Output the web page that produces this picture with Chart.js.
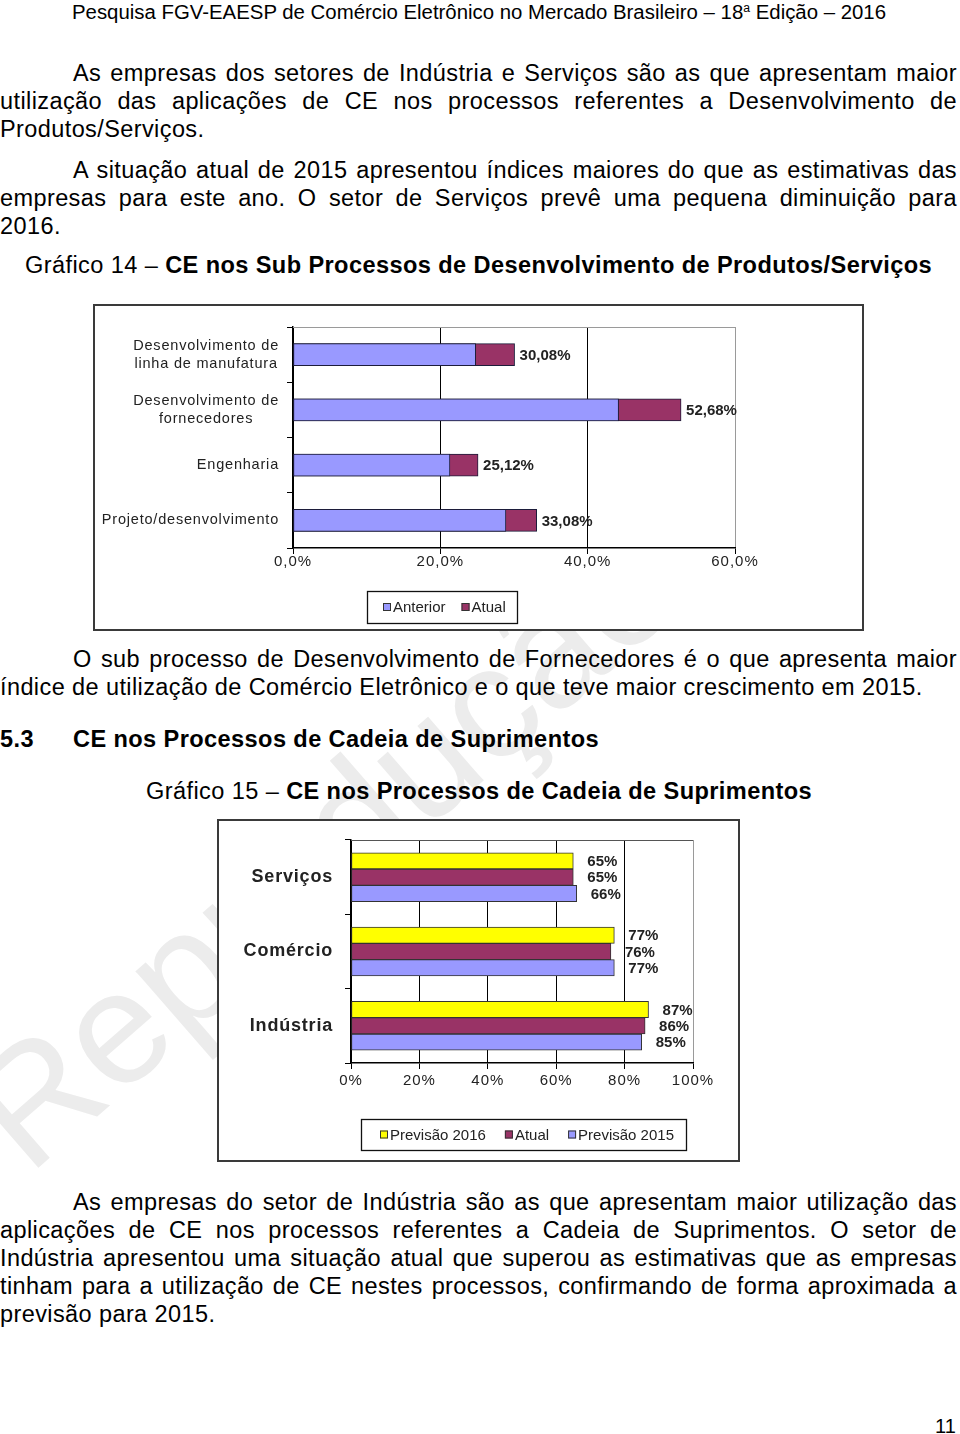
<!DOCTYPE html>
<html lang="pt-BR">
<head>
<meta charset="utf-8">
<script src="https://cdn.jsdelivr.net/npm/chart.js@4.4.1/dist/chart.umd.min.js"></script>
<style>
html, body { margin: 0; padding: 0; background: #fff; }
body { width: 960px; height: 1434px; position: relative; overflow: hidden;
       font-family: "Liberation Sans", Arial, Helvetica, sans-serif; color: #000; }
.t { position: absolute; white-space: nowrap; font-size: 23.5px; line-height: 28px; letter-spacing: 0.4px; transform-origin: 0 0; }
.b { font-weight: bold; }
.wm { position: absolute; left: 45px; top: 1035px; font-size: 160px; line-height: 160px; color: #ececec;
      white-space: nowrap; transform-origin: 0 100%; transform: rotate(-41deg); }
.box { position: absolute; background: #fff; }
.frame { position: absolute; border: 2px solid #3a3a3a; box-sizing: border-box; pointer-events: none; }
canvas { display: block; }
sup { font-size: 12px; vertical-align: 7px; line-height: 0; }
</style>
</head>
<body>

<div class="wm">Reprodução</div>

<div class="t" style="left:72px;top:0px;font-size:20px;line-height:24px;letter-spacing:0" data-fit="814">Pesquisa FGV-EAESP de Comércio Eletrônico no Mercado Brasileiro – 18<sup>a</sup> Edição – 2016</div>

<div class="t j" style="left:73px;top:59px" data-w="884">As empresas dos setores de Indústria e Serviços são as que apresentam maior</div>
<div class="t j" style="left:0;top:87px" data-w="957">utilização das aplicações de CE nos processos referentes a Desenvolvimento de</div>
<div class="t" style="left:0;top:115px">Produtos/Serviços.</div>

<div class="t j" style="left:73px;top:156px" data-w="884">A situação atual de 2015 apresentou índices maiores do que as estimativas das</div>
<div class="t j" style="left:0;top:184px" data-w="957">empresas para este ano. O setor de Serviços prevê uma pequena diminuição para</div>
<div class="t" style="left:0;top:212px">2016.</div>

<div class="t" style="left:25px;top:251px" data-fit="907">Gráfico 14 – <span class="b">CE nos Sub Processos de Desenvolvimento de Produtos/Serviços</span></div>

<div class="box" style="left:93px;top:304px;width:771px;height:327px"><canvas id="chart1" width="771" height="327"></canvas></div>
<div class="frame" style="left:93px;top:304px;width:771px;height:327px"></div>

<div class="t j" style="left:73px;top:645px" data-w="884">O sub processo de Desenvolvimento de Fornecedores é o que apresenta maior</div>
<div class="t" style="left:0;top:673px">índice de utilização de Comércio Eletrônico e o que teve maior crescimento em 2015.</div>

<div class="t b" style="left:0;top:725px">5.3</div>
<div class="t b" style="left:73px;top:725px" data-fit="526">CE nos Processos de Cadeia de Suprimentos</div>

<div class="t" style="left:146px;top:777px" data-fit="666">Gráfico 15 – <span class="b">CE nos Processos de Cadeia de Suprimentos</span></div>

<div class="box" style="left:217px;top:819px;width:523px;height:343px"><canvas id="chart2" width="523" height="343"></canvas></div>
<div class="frame" style="left:217px;top:819px;width:523px;height:343px"></div>

<div class="t j" style="left:73px;top:1188px" data-w="884">As empresas do setor de Indústria são as que apresentam maior utilização das</div>
<div class="t j" style="left:0;top:1216px" data-w="957">aplicações de CE nos processos referentes a Cadeia de Suprimentos. O setor de</div>
<div class="t j" style="left:0;top:1244px" data-w="957">Indústria apresentou uma situação atual que superou as estimativas que as empresas</div>
<div class="t j" style="left:0;top:1272px" data-w="957">tinham para a utilização de CE nestes processos, confirmando de forma aproximada a</div>
<div class="t" style="left:0;top:1300px">previsão para 2015.</div>

<div class="t" style="left:935px;top:1414px;font-size:20px;line-height:24px;letter-spacing:0">11</div>

<script>
// Gráfico 14
var c1Labels = [["Desenvolvimento de", "linha de manufatura"], ["Desenvolvimento de", "fornecedores"], "Engenharia", "Projeto/desenvolvimento"];
var c1Anterior = [24.8, 44.2, 21.3, 28.9];
var c1Atual = [30.08, 52.68, 25.12, 33.08];

// Gráfico 15
var c2Labels = ["Serviços", "Comércio", "Indústria"];
var c2Prev2016 = [65, 77, 87];
var c2Atual = [65, 76, 86];
var c2Prev2015 = [66, 77, 85];

// text lines: stretch word spacing so each line fills its width, or squeeze titles
document.querySelectorAll('.j').forEach(function (el) {
    var w = +el.dataset.w;
    var nat = el.getBoundingClientRect().width;
    var spaces = (el.textContent.match(/ /g) || []).length;
    el.style.wordSpacing = ((w - nat) / spaces) + 'px';
});
document.querySelectorAll('[data-fit]').forEach(function (el) {
    var nat = el.getBoundingClientRect().width;
    el.style.transform = 'scaleX(' + (+el.dataset.fit / nat) + ')';
});

var FONT = '"Liberation Sans", Arial, sans-serif';

var spacing = {
    id: 'spacing',
    beforeDraw: function (chart, args, o) { chart.ctx.letterSpacing = o.value; },
    afterDraw: function (chart) { chart.ctx.letterSpacing = '0px'; }
};

var plotTop = {
    id: 'plotTop',
    beforeDatasetsDraw: function (chart, args, o) {
        var ctx = chart.ctx, ca = chart.chartArea;
        ctx.save();
        ctx.strokeStyle = o.color;
        ctx.lineWidth = 1;
        ctx.beginPath();
        ctx.moveTo(ca.left, ca.top + 0.5);
        ctx.lineTo(ca.right, ca.top + 0.5);
        ctx.stroke();
        ctx.restore();
    }
};

var catLabels = {
    id: 'catLabels',
    afterDraw: function (chart, args, o) {
        var ctx = chart.ctx, y = chart.scales.y;
        ctx.save();
        ctx.font = o.font;
        ctx.fillStyle = o.color;
        ctx.letterSpacing = o.spacing;
        ctx.textAlign = 'center';
        ctx.textBaseline = 'middle';
        var right = chart.chartArea.left - o.gap;
        chart.data.labels.forEach(function (lab, i) {
            var lines = Array.isArray(lab) ? lab : [lab];
            var w = Math.max.apply(null, lines.map(function (l) { return ctx.measureText(l).width; }));
            var cy = y.getPixelForTick(i);
            lines.forEach(function (l, k) {
                ctx.fillText(l, right - w / 2, cy + (k - (lines.length - 1) / 2) * o.lineHeight);
            });
        });
        ctx.restore();
    }
};

var valueLabels = {
    id: 'valueLabels',
    afterDatasetsDraw: function (chart, args, o) {
        var ctx = chart.ctx;
        ctx.save();
        ctx.font = o.font;
        ctx.fillStyle = o.color;
        ctx.letterSpacing = '0px';
        ctx.textAlign = 'left';
        ctx.textBaseline = 'middle';
        o.datasets.forEach(function (di) {
            var meta = chart.getDatasetMeta(di);
            meta.data.forEach(function (bar, i) {
                var v = chart.data.datasets[di].data[i];
                var txt = o.decimals ? v.toFixed(o.decimals).replace('.', ',') + '%' : v + '%';
                ctx.fillText(txt, bar.x + o.offset, bar.y + 1);
            });
        });
        ctx.restore();
    }
};

var boxLegend = {
    id: 'boxLegend',
    afterDraw: function (chart, args, o) {
        var ctx = chart.ctx;
        ctx.save();
        ctx.letterSpacing = '0px';
        ctx.strokeStyle = '#111';
        ctx.lineWidth = 1.3;
        ctx.strokeRect(o.x + 0.5, o.y + 0.5, o.w, o.h);
        ctx.font = o.font;
        ctx.textAlign = 'left';
        ctx.textBaseline = 'middle';
        var x = o.x + o.pad, cy = o.y + o.h / 2;
        chart.data.datasets.forEach(function (ds) {
            ctx.fillStyle = ds.backgroundColor;
            ctx.fillRect(x, cy - 4, 8, 8);
            ctx.strokeStyle = '#333';
            ctx.lineWidth = 1;
            ctx.strokeRect(x + 0.5, cy - 3.5, 7, 7);
            ctx.fillStyle = '#222';
            ctx.fillText(ds.label, x + 10, cy + 1);
            x += 10 + ctx.measureText(ds.label).width + o.gap;
        });
        ctx.restore();
    }
};

function xGridColor(max) {
    return function (c) { return c.tick && c.tick.value === max ? '#9a9a9a' : '#000'; };
}

new Chart(document.getElementById('chart1'), {
    type: 'bar',
    data: {
        labels: c1Labels,
        datasets: [{
            label: 'Anterior',
            data: c1Anterior,
            backgroundColor: '#9999FF',
            borderColor: '#1c1c3a',
            borderWidth: 1,
            borderSkipped: false,
            grouped: false,
            barThickness: 22
        }, {
            label: 'Atual',
            data: c1Atual,
            backgroundColor: '#993366',
            borderColor: '#1c1c3a',
            borderWidth: 1,
            borderSkipped: false,
            grouped: false,
            barThickness: 22
        }]
    },
    options: {
        indexAxis: 'y',
        responsive: false,
        animation: false,
        layout: { padding: { top: 23, right: 129, left: 0, bottom: 0 } },
        scales: {
            x: {
                min: 0, max: 60,
                ticks: {
                    stepSize: 20, padding: -1, color: '#222',
                    font: { family: FONT, size: 15 },
                    callback: function (v) { return v.toFixed(1).replace('.', ',') + '%'; }
                },
                grid: { color: xGridColor(60), tickColor: '#000', tickLength: 6, lineWidth: 1 },
                border: { color: '#000', width: 1.5 },
                afterFit: function (s) { s.height = 83; }
            },
            y: {
                ticks: { display: false },
                grid: { drawOnChartArea: false, tickColor: '#000', tickLength: 6, offset: true },
                border: { color: '#000', width: 1.5 },
                afterFit: function (s) { s.width = 200; }
            }
        },
        plugins: {
            legend: { display: false },
            tooltip: { enabled: false },
            spacing: { value: '1px' },
            plotTop: { color: '#9a9a9a' },
            catLabels: { font: '14.5px ' + FONT, color: '#222', spacing: '0.8px', gap: 14, lineHeight: 18 },
            valueLabels: { datasets: [1], font: 'bold 15px ' + FONT, color: '#222', offset: 5, decimals: 2 },
            boxLegend: { x: 274, y: 287, w: 150, h: 32, pad: 16, gap: 16, font: '15px ' + FONT }
        }
    },
    plugins: [spacing, plotTop, catLabels, valueLabels, boxLegend]
});

new Chart(document.getElementById('chart2'), {
    type: 'bar',
    data: {
        labels: c2Labels,
        datasets: [{
            label: 'Previsão 2016',
            data: c2Prev2016,
            backgroundColor: '#FFFF00',
            borderColor: '#333',
            borderWidth: 1,
            borderSkipped: false,
            barThickness: 16.3
        }, {
            label: 'Atual',
            data: c2Atual,
            backgroundColor: '#993366',
            borderColor: '#333',
            borderWidth: 1,
            borderSkipped: false,
            barThickness: 16.3
        }, {
            label: 'Previsão 2015',
            data: c2Prev2015,
            backgroundColor: '#9999FF',
            borderColor: '#333',
            borderWidth: 1,
            borderSkipped: false,
            barThickness: 16.3
        }]
    },
    options: {
        indexAxis: 'y',
        responsive: false,
        animation: false,
        layout: { padding: { top: 21, right: 47, left: 0, bottom: 0 } },
        scales: {
            x: {
                min: 0, max: 100,
                ticks: {
                    stepSize: 20, padding: 3, color: '#222',
                    font: { family: FONT, size: 15 },
                    callback: function (v) { return v + '%'; }
                },
                grid: { color: xGridColor(100), tickColor: '#000', tickLength: 6, lineWidth: 1 },
                border: { color: '#000', width: 1.5 },
                afterFit: function (s) { s.height = 99; }
            },
            y: {
                ticks: { display: false },
                grid: { drawOnChartArea: false, tickColor: '#000', tickLength: 6, offset: true },
                border: { color: '#000', width: 1.5 },
                afterFit: function (s) { s.width = 134; }
            }
        },
        plugins: {
            legend: { display: false },
            tooltip: { enabled: false },
            spacing: { value: '1px' },
            plotTop: { color: '#555' },
            catLabels: { font: 'bold 18px ' + FONT, color: '#222', spacing: '0.8px', gap: 18, lineHeight: 20 },
            valueLabels: { datasets: [0, 1, 2], font: 'bold 15px ' + FONT, color: '#222', offset: 14, decimals: 0 },
            boxLegend: { x: 144, y: 300, w: 325, h: 31, pad: 19, gap: 19, font: '15px ' + FONT }
        }
    },
    plugins: [spacing, plotTop, catLabels, valueLabels, boxLegend]
});
</script>
</body>
</html>
